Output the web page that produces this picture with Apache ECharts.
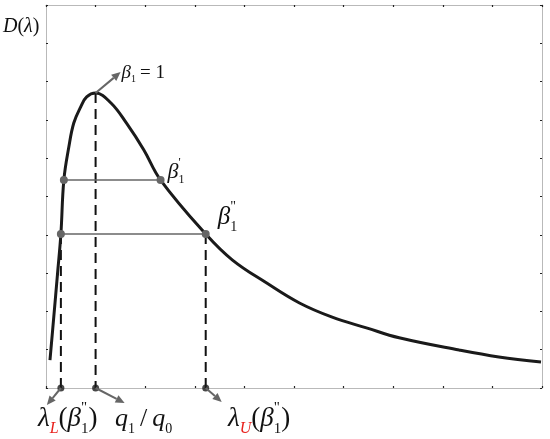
<!DOCTYPE html>
<html>
<head>
<meta charset="utf-8">
<script src="https://cdn.jsdelivr.net/npm/echarts@6/dist/echarts.min.js"></script>
<style>
  html, body { margin: 0; background: #fff; }
  #chart { width: 550px; height: 439px; }
</style>
</head>
<body>
<div id="chart"></div>
<script>
// curve D(lambda)
const curveX = [0.08, 0.16, 0.23, 0.30, 0.36, 0.46, 0.56, 0.70, 0.82, 1.00, 1.31, 1.63, 1.97, 2.31, 3.22, 3.76, 4.45, 5.11, 5.77, 6.46, 7.12, 8.33, 9.13, 9.98];
const curveY = [0.73, 1.90, 2.95, 4.02, 5.43, 6.29, 6.92, 7.34, 7.60, 7.70, 7.44, 6.90, 6.22, 5.43, 4.02, 3.34, 2.74, 2.22, 1.85, 1.57, 1.31, 0.99, 0.81, 0.68];

// horizontal levels beta1' and beta1''
const levelY = [5.43, 4.02];
const levelStartX = [0.36, 0.30];
const levelEndX = [2.31, 3.22];

// dashed drops: lambda_L, q1/q0 (peak), lambda_U
const dropX = [0.30, 1.00, 3.22];
const dropTopY = [4.02, 7.70, 4.02];

const FONT = 'Liberation Serif';
const chart = echarts.init(document.getElementById('chart'));

const axisCommon = {
  type: 'value', min: 0, max: 10, interval: 1,
  axisLine: { onZero: false, lineStyle: { color: '#b9b9b9', width: 1 } },
  axisTick: { inside: true, length: 2, lineStyle: { color: '#222', width: 1.2 } },
  axisLabel: { show: false },
  splitLine: { show: false }
};

const series = [];
series.push({
  type: 'line', xAxisIndex: 0, yAxisIndex: 0,
  data: curveX.map((x, i) => [x, curveY[i]]),
  smooth: 0.4,
  showSymbol: false, silent: true, z: 4,
  lineStyle: { color: '#1a1a1a', width: 3 }
});
dropX.forEach((x, i) => {
  series.push({
    type: 'line', data: [[x, dropTopY[i]], [x, 0]],
    showSymbol: false, silent: true, z: 2,
    lineStyle: { color: '#111', width: 2, type: [10, 6] }
  });
});
levelY.forEach((y, i) => {
  series.push({
    type: 'line', data: [[levelStartX[i], y], [levelEndX[i], y]],
    symbol: 'circle', symbolSize: 8, showSymbol: true, silent: true, z: 5,
    itemStyle: { color: '#666' },
    lineStyle: { color: '#666', width: 1.5 }
  });
});
series.push({
  type: 'scatter', data: dropX.map(x => [x, 0]), clip: false,
  symbolSize: 7, silent: true, z: 6,
  itemStyle: { color: '#1a1a1a' }
});

chart.setOption({
  animation: false,
  backgroundColor: '#fff',
  grid: { left: 46, right: 8, top: 5, bottom: 51 },
  xAxis: [Object.assign({ position: 'bottom' }, axisCommon), Object.assign({ position: 'top' }, axisCommon)],
  yAxis: [Object.assign({ position: 'left' }, axisCommon), Object.assign({ position: 'right' }, axisCommon)],
  series: series
});

// --- annotations (arrows and math labels), anchored to data points ---
const ctx = document.createElement('canvas').getContext('2d');
function px(pt) { return chart.convertToPixel({ gridIndex: 0 }, pt); }

function mathLabel(x, baseline, size, parts) {
  const els = [];
  let cx = x, prevX = x, prevW = 0;
  parts.forEach(p => {
    const fs = Math.round(size * (p.s || 1));
    const it = p.it ? 'italic' : 'normal';
    ctx.font = it + ' ' + fs + 'px "' + FONT + '"';
    const w = ctx.measureText(p.t).width;
    let tx = cx;
    if (p.stack) tx = prevX;
    els.push({
      type: 'text', x: tx + (p.dx || 0), y: baseline + (p.dy || 0) * size - 0.33 * fs,
      silent: true, z: 100,
      style: {
        text: p.t, fontFamily: FONT, fontSize: fs, fontStyle: it,
        fill: p.c || '#111', verticalAlign: 'middle', align: 'left'
      }
    });
    if (p.stack) { cx = prevX + Math.max(prevW, w); }
    else { prevX = tx; prevW = w; cx = tx + w + (p.gap || 0); }
  });
  return els;
}

function arrow(from, dx, dy) {
  const x2 = from[0] + dx, y2 = from[1] + dy;
  const len = Math.sqrt(dx * dx + dy * dy), ux = dx / len, uy = dy / len;
  const hl = 9, hw = 4;
  const bx = x2 - ux * hl, by = y2 - uy * hl;
  return [
    { type: 'line', silent: true, z: 90, shape: { x1: from[0], y1: from[1], x2: bx, y2: by }, style: { stroke: '#666', lineWidth: 2 } },
    { type: 'polygon', silent: true, z: 90, shape: { points: [[x2, y2], [bx - uy * hw, by + ux * hw], [bx + uy * hw, by - ux * hw]] }, style: { fill: '#666' } }
  ];
}

const peak = px([dropX[1], dropTopY[1]]);
const pL = px([dropX[0], 0]);
const pQ = px([dropX[1], 0]);
const pU = px([dropX[2], 0]);
const b1 = px([levelEndX[0], levelY[0]]);
const b2 = px([levelEndX[1], levelY[1]]);

let g = [];
g = g.concat(arrow(peak, 25, -21), arrow(pL, -14, 17), arrow(pQ, 29, 15), arrow(pU, 16, 14));

const RED = '#e8211d';
// y axis name
g = g.concat(mathLabel(3, 33, 20, [
  { t: 'D', it: true }, { t: '(' }, { t: 'λ', it: true }, { t: ')' }
]));
// beta1 = 1
g = g.concat(mathLabel(peak[0] + 26, peak[1] - 14, 19, [
  { t: 'β', it: true }, { t: '1', s: 0.55, dy: 0.18, gap: 4 }, { t: '= 1' }
]));
// beta1'
g = g.concat(mathLabel(b1[0] + 7, b1[1] - 1, 22, [
  { t: 'β', it: true }, { t: '1', s: 0.55, dy: 0.22 }, { t: "'", s: 0.55, dy: -0.55, stack: true }
]));
// beta1''
g = g.concat(mathLabel(b2[0] + 12, b2[1] - 8, 25, [
  { t: 'β', it: true }, { t: '1', s: 0.55, dy: 0.22 }, { t: '"', s: 0.55, dy: -0.55, stack: true }
]));
// bottom labels
const bl = pL[1] + 40;
g = g.concat(mathLabel(38, bl, 27, [
  { t: 'λ', it: true }, { t: 'L', it: true, c: RED, s: 0.6, dy: 0.22 }, { t: '(' },
  { t: 'β', it: true }, { t: '1', s: 0.55, dy: 0.22 }, { t: '"', s: 0.55, dy: -0.55, stack: true }, { t: ')' }
]));
g = g.concat(mathLabel(115, bl, 26, [
  { t: 'q', it: true }, { t: '1', s: 0.55, dy: 0.22, gap: 5 }, { t: '/', gap: 5 },
  { t: 'q', it: true }, { t: '0', s: 0.55, dy: 0.22 }
]));
g = g.concat(mathLabel(228, bl, 27, [
  { t: 'λ', it: true }, { t: 'U', it: true, c: RED, s: 0.6, dy: 0.22 }, { t: '(' },
  { t: 'β', it: true }, { t: '1', s: 0.55, dy: 0.22 }, { t: '"', s: 0.55, dy: -0.55, stack: true }, { t: ')' }
]));

chart.setOption({ graphic: g });
</script>
</body>
</html>
